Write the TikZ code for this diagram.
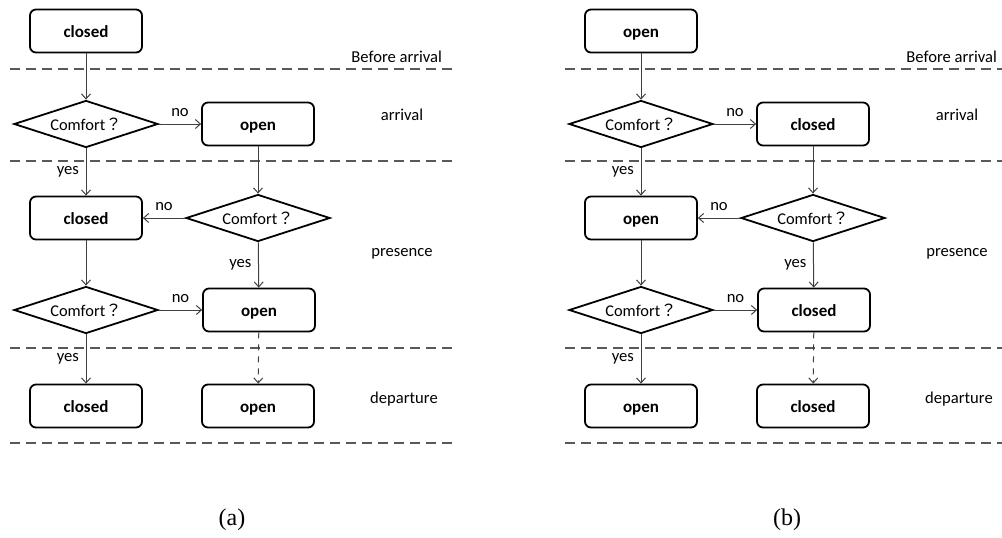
\documentclass[tikz,border=0pt]{standalone}
\usepackage{fontspec}
\setmainfont{Carlito}
\newfontfamily\cjk{Noto Sans CJK JP}
\newfontfamily\capfont{Liberation Serif}
\usetikzlibrary{shapes.geometric,arrows.meta}
\tikzset{
  state/.style={draw,line width=0.9pt,rounded corners=3pt,minimum width=56pt,minimum height=21.5pt,
    text height=1.6ex,text depth=0.3ex,font=\fontsize{8.5}{10}\selectfont\bfseries},
  test/.style={draw,line width=0.9pt,diamond,aspect=3,inner sep=1pt,minimum width=72pt,minimum height=23.5pt,
    font=\fontsize{8.2}{10}\selectfont},
  flow/.style={-{Straight Barb[length=2.5pt,width=4.5pt]},draw=black!75,line width=0.5pt},
  sep/.style={draw=black!65,line width=0.7pt,dash pattern=on 5pt off 3pt}
}
\begin{document}
\begin{tikzpicture}[x=0.5pt,y=-0.5pt,font=\fontsize{8.3}{10}\selectfont]
\useasboundingbox (0,0) rectangle (1002,537);
\foreach \p/\a/\b/\dx in {a/closed/open/0, b/open/closed/555} {
  \begin{scope}[shift={(\dx,0)}]
  % states and tests
  \node[state] (s0\p) at (86,31) {\a};
  \node[test] (q1\p) at (86,124) {Comfort{\cjk ？}};
  \node[state] (s1\p) at (258,124) {\b};
  \node[state] (s2\p) at (86,218) {\a};
  \node[test] (q2\p) at (258,218) {Comfort{\cjk ？}};
  \node[test] (q3\p) at (86,310) {Comfort{\cjk ？}};
  \node[state] (s3\p) at (259,310) {\b};
  \node[state] (s4\p) at (86,406) {\a};
  \node[state] (s5\p) at (258,406) {\b};
  % phases
  \foreach \y in {69,161,348,443} \draw[sep] (10,\y) -- (455,\y);
  \node[anchor=east] (ph0\p) at (449,57) {Before arrival};
  \node (ph1\p) at (402,115) {arrival};
  \node (ph2\p) at (402,254) {presence};
  \node (ph3\p) at (404,399) {departure};
  % connectors
  \draw[flow] (s0\p) -- (q1\p);
  \draw[flow] (q1\p) -- node[above]{no} (s1\p);
  \draw[flow] (q1\p) -- node[left]{yes} (s2\p);
  \draw[flow] (s1\p) -- (q2\p);
  \draw[flow] (q2\p) -- node[above]{no} (s2\p);
  \draw[flow] (q2\p) -- node[left]{yes} (s3\p);
  \draw[flow] (s2\p) -- (q3\p);
  \draw[flow] (q3\p) -- node[above]{no} (s3\p);
  \draw[flow] (q3\p) -- node[left]{yes} (s4\p);
  \draw[flow,dashed] (s3\p) -- (s5\p);
  \node[font=\capfont\fontsize{12}{14}\selectfont] (cap\p) at (232,520) {(\p)};
  \end{scope}
}
\end{tikzpicture}
\end{document}
